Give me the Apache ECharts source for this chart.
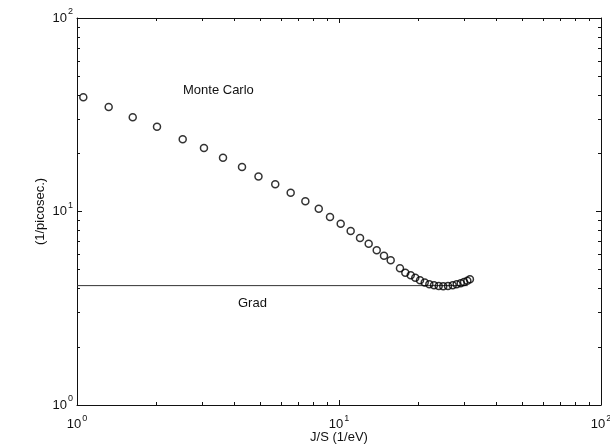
<!DOCTYPE html>
<html>
<head>
<meta charset="utf-8">
<script src="https://cdn.jsdelivr.net/npm/echarts@6/dist/echarts.min.js"></script>
<style>
  html, body { margin: 0; padding: 0; background: #fff; }
  #chart { width: 610px; height: 446px; }
</style>
</head>
<body>
<div id="chart"></div>
<script>
// Monte Carlo relaxation rate vs J/S, and the Grad approximation
const mcJS = [1.057, 1.321, 1.632, 2.020, 2.532, 3.052, 3.608, 4.264, 4.928, 5.71,
  6.54, 7.44, 8.37, 9.24, 10.15, 11.08, 12.03, 12.98, 13.93, 14.85,
  15.75, 17.09, 17.91, 18.78, 19.55, 20.38, 21.24, 22.12, 23.05, 24.02,
  25.0, 26.06, 27.16, 28.13, 29.14, 30.0, 30.89, 31.6];
const mcRate = [38.9, 34.7, 30.7, 27.4, 23.6, 21.3, 18.97, 16.98, 15.17, 13.82,
  12.5, 11.29, 10.34, 9.37, 8.65, 7.93, 7.30, 6.82, 6.30, 5.91,
  5.60, 5.09, 4.83, 4.68, 4.55, 4.41, 4.29, 4.21, 4.16, 4.12,
  4.11, 4.12, 4.16, 4.21, 4.26, 4.32, 4.39, 4.46];
const gradJS = [1, 31];
const gradRate = [4.14, 4.14];
const decadeExponents = [0, 1, 2];

const FONT = '"Liberation Sans", Arial, Helvetica, sans-serif';
const INK = '#111';

const powLabel = function (value) {
  const e = Math.round(Math.log10(value));
  if (decadeExponents.indexOf(e) < 0) return '';
  return '{b|10}{s|' + e + '}';
};
const richPow = {
  b: { fontFamily: FONT, fontSize: 13, color: INK },
  s: { fontFamily: FONT, fontSize: 9, color: INK, verticalAlign: 'bottom', padding: [0, 0, 12, 1] }
};

function logAxis(extra) {
  return Object.assign({
    type: 'log',
    logBase: 10,
    min: 1,
    max: 100,
    axisLine: { show: true, onZero: false, lineStyle: { color: INK, width: 1 } },
    axisTick: { show: true, inside: true, length: 5, lineStyle: { color: INK } },
    minorTick: { show: true, splitNumber: 9, length: 3, lineStyle: { color: INK } },
    splitLine: { show: false },
    minorSplitLine: { show: false },
    axisLabel: { show: false }
  }, extra);
}

const chart = echarts.init(document.getElementById('chart'), null, { renderer: 'canvas' });
chart.setOption({
  backgroundColor: '#fff',
  animation: false,
  grid: { left: 77, top: 18, right: 9, bottom: 41, containLabel: false, outerBoundsMode: 'none' },
  xAxis: [
    logAxis({
      position: 'bottom',
      name: 'J/S (1/eV)',
      nameLocation: 'middle',
      nameGap: 26,
      nameMoveOverlap: false,
      nameTextStyle: { fontFamily: FONT, fontSize: 13, color: INK },
      axisLabel: { show: true, margin: 9, formatter: powLabel, rich: richPow, showMinLabel: true, showMaxLabel: true }
    }),
    logAxis({ position: 'top' })
  ],
  yAxis: [
    logAxis({
      position: 'left',
      name: '(1/picosec.)',
      nameLocation: 'middle',
      nameGap: 30,
      nameMoveOverlap: false,
      nameTextStyle: { fontFamily: FONT, fontSize: 13, color: INK },
      axisLabel: { show: true, margin: 4, formatter: powLabel, rich: richPow, showMinLabel: true, showMaxLabel: true }
    }),
    logAxis({ position: 'right' })
  ],
  series: [
    {
      name: 'Grad',
      type: 'line',
      data: gradJS.map((x, i) => [x, gradRate[i]]),
      showSymbol: false,
      lineStyle: { color: '#333', width: 1 },
      z: 2
    },
    {
      name: 'Monte Carlo',
      type: 'scatter',
      data: mcJS.map((x, i) => [x, mcRate[i]]),
      symbol: 'circle',
      symbolSize: 7,
      itemStyle: { color: 'rgba(255,255,255,0)', borderColor: '#000', borderWidth: 1.5 },
      z: 3
    }
  ],
  graphic: [
    { type: 'text', left: 183, top: 84, style: { text: 'Monte Carlo', font: '13px ' + FONT, fill: INK } },
    { type: 'text', left: 238, top: 297, style: { text: 'Grad', font: '13px ' + FONT, fill: INK } }
  ]
});
</script>
</body>
</html>
